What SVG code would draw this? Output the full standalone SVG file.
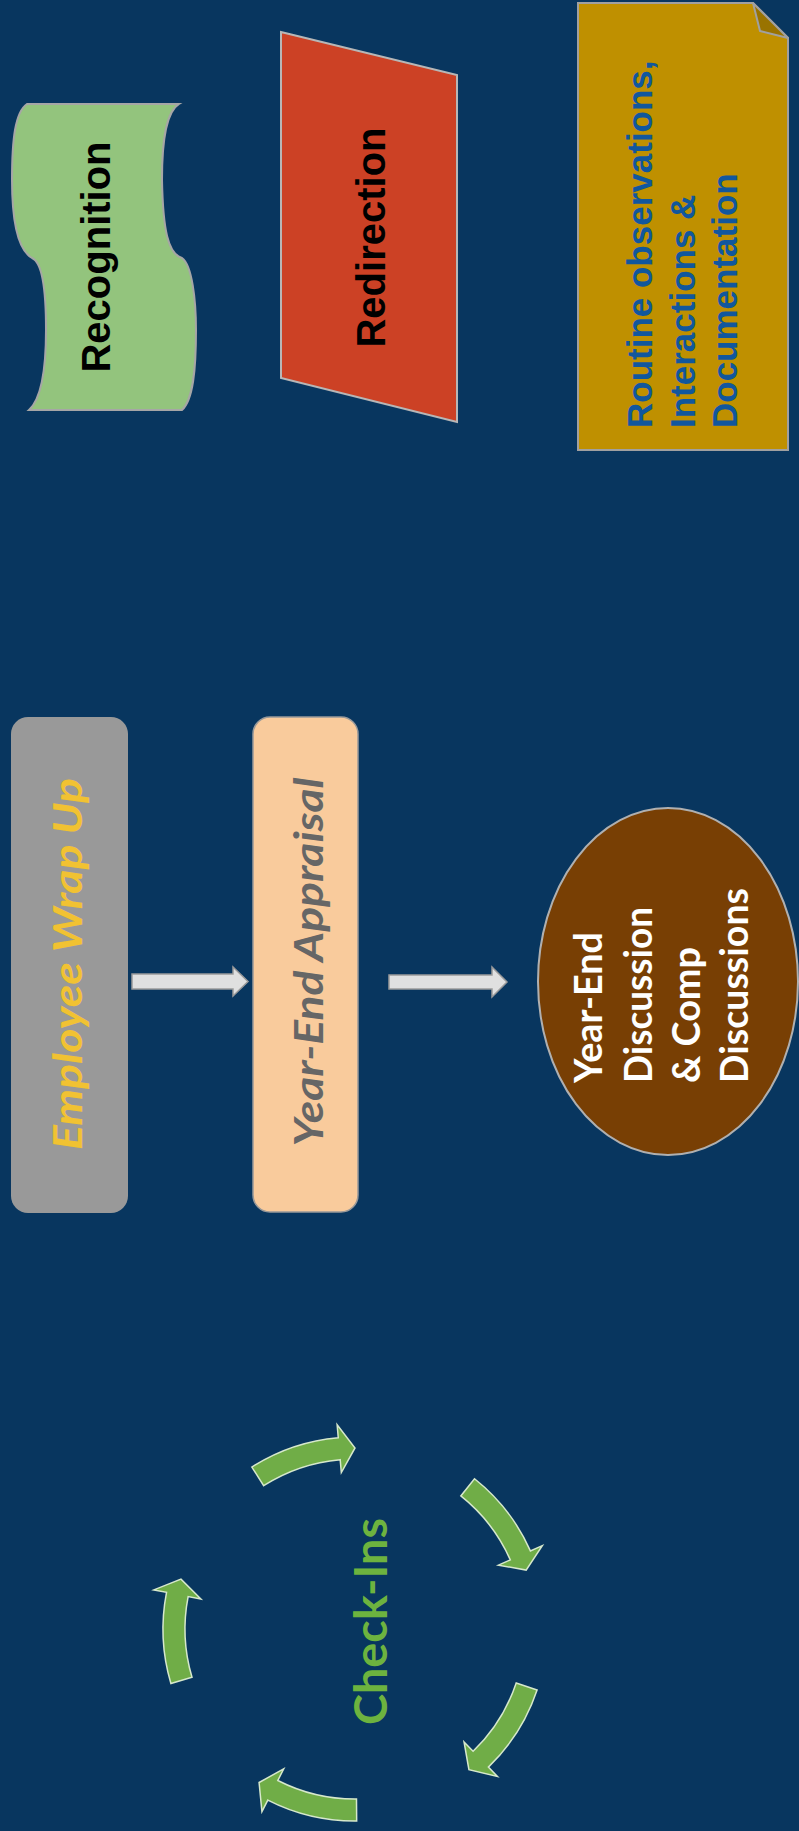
<svg xmlns="http://www.w3.org/2000/svg" width="799" height="1831" viewBox="0 0 799 1831">
<style>
.bg{fill:#08365f}
.arial{font-family:"Liberation Sans",Arial,sans-serif;font-weight:bold}
.cal{font-family:Lato,"Open Sans",sans-serif;font-weight:bold}
.blk{fill:#e0e0e0;stroke:#9a9a9a;stroke-width:1.5}
.cyc{fill:#70ad47;stroke:#d6e8cc;stroke-width:1.5}
</style>
<defs>
<path id="carc" d="M 184.09,-54.53 A 192 192 0 0 1 188.47,36.63 L 201.23,39.12 L 174.0,49.89 L 154.11,29.96 L 166.87,32.44 A 170 170 0 0 0 163.0,-48.28 Z"/>
</defs>
<rect class="bg" x="0" y="0" width="799" height="1831"/>

<g id="recognition">
<path d="M 27,104 L 179,104 C 166,112 162,140 162,180 C 163,230 168,254 182,258 C 192,265 196,300 196,330 C 196,370 193,400 182,410 L 29,410 C 40,400 46,375 46,330 C 46,290 42,262 32,258 C 18,250 12,220 12,180 C 12,140 15,112 27,104 Z" fill="#93c47d" stroke="#a6a6a6" stroke-width="2"/>
<text class="arial" transform="translate(110,257) rotate(-90)" text-anchor="middle" font-size="40" fill="#000">Recognition</text>
</g>

<g id="redirection">
<polygon points="281,32 457,75 457,422 281,378" fill="#cc4125" stroke="#b7b7b7" stroke-width="2"/>
<text class="arial" transform="translate(385,237.5) rotate(-90)" text-anchor="middle" font-size="40" fill="#000">Redirection</text>
</g>

<g id="routine">
<path d="M 578,3 L 753,3 L 788,38 L 788,450 L 578,450 Z" fill="#bf9000" stroke="#a0a0a0" stroke-width="2"/>
<polygon points="753,3 760,31 788,38" fill="#997300" stroke="#a0a0a0" stroke-width="2" stroke-linejoin="round"/>
<text class="arial" transform="translate(652,428) rotate(-90)" font-size="35" fill="#11579d">
<tspan x="0" y="0">Routine observations,</tspan>
<tspan x="0" y="43">Interactions &amp;</tspan>
<tspan x="0" y="85">Documentation</tspan>
</text>
</g>

<g id="employee-wrap-up">
<rect x="11" y="717" width="117" height="496" rx="17" ry="17" fill="#999999"/>
<text class="cal" font-style="italic" transform="translate(82,964) rotate(-90)" text-anchor="middle" font-size="41" fill="#f1c232" textLength="372" lengthAdjust="spacingAndGlyphs">Employee Wrap Up</text>
</g>

<g id="year-end-appraisal">
<rect x="253" y="717" width="105" height="495" rx="17" ry="17" fill="#f9cb9c" stroke="#999999" stroke-width="1.5"/>
<text class="cal" font-style="italic" transform="translate(323,962) rotate(-90)" text-anchor="middle" font-size="41" fill="#666666" textLength="369" lengthAdjust="spacingAndGlyphs">Year-End Appraisal</text>
</g>

<g id="year-end-discussion">
<ellipse cx="668" cy="981.5" rx="130" ry="173.5" fill="#783f04" stroke="#b0b0b0" stroke-width="2"/>
<text class="cal" transform="translate(602,1083) rotate(-90)" font-size="39" fill="#ffffff">
<tspan x="0" y="0" textLength="151" lengthAdjust="spacingAndGlyphs">Year-End</tspan>
<tspan x="0" y="50" textLength="176" lengthAdjust="spacingAndGlyphs">Discussion</tspan>
<tspan x="0" y="98" textLength="136" lengthAdjust="spacingAndGlyphs">&amp; Comp</tspan>
<tspan x="0" y="146" textLength="195" lengthAdjust="spacingAndGlyphs">Discussions</tspan>
</text>
</g>

<g id="check-ins">
<g transform="translate(355,1629)">
<use href="#carc" class="cyc" transform="rotate(-106)"/>
<use href="#carc" class="cyc" transform="rotate(-35)"/>
<use href="#carc" class="cyc" transform="rotate(35)"/>
<use href="#carc" class="cyc" transform="rotate(106)"/>
<use href="#carc" class="cyc" transform="rotate(180)"/>
</g>
<text class="cal" transform="translate(387,1621.5) rotate(-90)" text-anchor="middle" font-size="46" fill="#6db33f" textLength="207" lengthAdjust="spacingAndGlyphs">Check-Ins</text>
</g>

<g id="connectors">
<path class="blk" d="M132,974 L233,974 L233,967 L248,981.5 L233,996 L233,989 L132,989 Z"/>
<path class="blk" d="M389,975 L492,975 L492,967 L507,982 L492,997 L492,989 L389,989 Z"/>
</g>
</svg>
